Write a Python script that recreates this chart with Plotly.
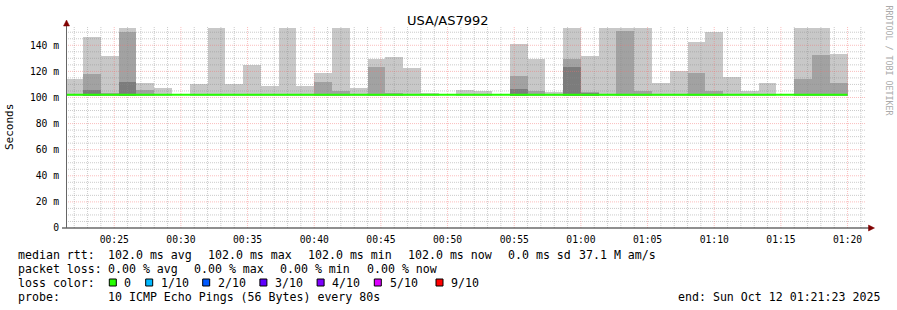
import plotly.graph_objects as go
from datetime import datetime, timedelta

# ---------------- data ----------------
TITLE = "USA/AS7992"
WINDOW_START = datetime(2025, 10, 12, 0, 21, 23)
WINDOW_END = datetime(2025, 10, 12, 1, 21, 23)
FIRST_STEP = datetime(2025, 10, 12, 0, 21, 20)
STEP_SECONDS = 80

# smoke layers (ms): outer = max ping, mid / inner = inner ping spreads
smoke_outer = [114.5, 146.7, 132.0, 153.6, 111.3, 107.5, None, 110.5, 153.6, 110.5,
               125.2, 109.0, 153.6, 109.0, 119.0, 153.6, 107.5, 129.8, 131.3, 122.8,
               103.6, None, 106.0, 105.0, None, 141.3, 129.8, 104.4, 153.6, 132.0,
               153.6, 153.6, 153.6, 111.3, 120.5, 142.8, 149.8, 115.9, 105.0, 111.3,
               None, 153.6, 153.6, 133.6]
smoke_mid = [None, 118.2, 103.5, 149.8, 105.9, None, None, None, None, None,
             None, None, None, None, 112.0, 105.0, None, 123.6, 103.6, None,
             None, None, None, None, None, 116.7, 105.0, None, 129.8, 104.4,
             None, 151.3, 105.0, None, None, 119.0, 105.0, None, None, None,
             None, 114.4, 132.8, 111.3]
smoke_inner = [None, 105.9, None, 112.0, None, None, None, None, None, None,
               None, None, None, None, None, None, None, None, None, None,
               None, None, None, None, None, 106.7, None, None, 123.6, 103.5,
               None, None, None, None, None, None, None, None, None, None,
               None, None, None, None]
median_rtt = [102.0, 102.0, 102.0, 102.0, 102.0, 102.0, 102.0, 102.0, 102.0, 102.0,
              102.0, 102.0, 102.0, 102.0, 102.0, 102.0, 102.0, 102.0, 102.0, 102.0,
              102.0, 102.0, 102.0, 102.0, 102.0, 102.0, 102.0, 102.0, 102.0, 102.0,
              102.0, 102.0, 102.0, 102.0, 102.0, 102.0, 102.0, 102.0, 102.0, 102.0,
              102.0, 102.0, 102.0, 102.0]
min_rtt = 101.0

y_tick_vals = [0, 20, 40, 60, 80, 100, 120, 140]
y_tick_text = ["0", "20 m", "40 m", "60 m", "80 m", "100 m", "120 m", "140 m"]
x_tick_text = ["00:25", "00:30", "00:35", "00:40", "00:45", "00:50",
               "00:55", "01:00", "01:05", "01:10", "01:15", "01:20"]
Y_MAX = 154.0

legend_rtt = ["median rtt:", "102.0 ms avg", "102.0 ms max", "102.0 ms min",
              "102.0 ms now", "0.0 ms sd", "37.1 M am/s"]
legend_loss = ["packet loss:", "0.00 % avg", "0.00 % max", "0.00 % min", "0.00 % now"]
loss_labels = ["0", "1/10", "2/10", "3/10", "4/10", "5/10", "9/10"]
loss_colors = ["#26ff00", "#00b8ff", "#0059ff", "#5e00ff", "#7e00ff", "#dd00ff", "#ff0000"]
probe_text = "10 ICMP Echo Pings (56 Bytes) every 80s"
end_text = "end: Sun Oct 12 01:21:23 2025"

# ---------------- layout geometry (pixels) ----------------
W, H = 897, 310
L, R, T, B = 66, 866, 27, 228
PW, PH = R - L, B - T


def px(x):
    return (x - L) / PW


def py(y):
    return (B - y) / PH


MONO = "DejaVu Sans Mono"
n = len(smoke_outer)
centers = [FIRST_STEP + timedelta(seconds=STEP_SECONDS * (i + 0.5)) for i in range(n)]
bounds = [FIRST_STEP + timedelta(seconds=STEP_SECONDS * i) for i in range(n + 1)]

fig = go.Figure()


def smoke(vals, color):
    fig.add_trace(go.Bar(
        x=centers, y=[(v - min_rtt) if v is not None else None for v in vals],
        base=min_rtt, width=STEP_SECONDS * 1000, marker_color=color,
        marker_line_width=0, hoverinfo="skip", showlegend=False))


smoke(smoke_outer, "#c8c8c8")
smoke(smoke_mid, "#a2a2a2")
smoke(smoke_inner, "#7c7c7c")

# grid (drawn above the smoke, like rrdtool)
minor_x, major_x = [], []
t = datetime(2025, 10, 12, 0, 22)
while t < WINDOW_END:
    target = major_x if t.minute % 5 == 0 else minor_x
    target += [t, t, None]
    t += timedelta(minutes=1)
vy_minor = [0, Y_MAX, None] * (len(minor_x) // 3)
vy_major = [0, Y_MAX, None] * (len(major_x) // 3)
minor_y, major_y = [], []
for v in range(5, 151, 5):
    (major_y if v % 20 == 0 else minor_y).extend([v, v, None])
hx_minor = [WINDOW_START, WINDOW_END, None] * (len(minor_y) // 3)
hx_major = [WINDOW_START, WINDOW_END, None] * (len(major_y) // 3)

GRID = "rgba(140,140,140,0.45)"
MGRID = "rgba(245,110,110,0.45)"
for xs, ys, col in [(minor_x, vy_minor, GRID), (hx_minor, minor_y, GRID),
                    (major_x, vy_major, MGRID), (hx_major, major_y, MGRID)]:
    fig.add_trace(go.Scatter(x=xs, y=ys, mode="lines",
                             line=dict(color=col, width=1, dash="1px,1px"),
                             hoverinfo="skip", showlegend=False))

# median line
fig.add_trace(go.Scatter(x=bounds, y=median_rtt + [median_rtt[-1]], mode="lines",
                         line=dict(color=loss_colors[0], width=2, shape="hv"),
                         hoverinfo="skip", showlegend=False))

tick_times = [datetime(2025, 10, 12, int(s[:2]), int(s[3:])) for s in x_tick_text]

fig.update_layout(
    width=W, height=H, autosize=False,
    margin=dict(l=L, r=W - R, t=T, b=H - B, pad=0),
    paper_bgcolor="white", plot_bgcolor="white",
    barmode="overlay", bargap=0, showlegend=False,
    font=dict(family=MONO, size=10, color="#000"),
    xaxis=dict(type="date", range=[WINDOW_START, WINDOW_END], showgrid=False,
               zeroline=False, showline=False, tickvals=tick_times, ticktext=x_tick_text,
               ticks="outside", ticklen=2, tickcolor="rgba(0,0,0,0)",
               tickfont=dict(family=MONO, size=9.7, color="#000"), fixedrange=True),
    yaxis=dict(range=[0, Y_MAX], showgrid=False, zeroline=False, showline=False,
               tickvals=y_tick_vals, ticktext=y_tick_text,
               ticks="outside", ticklen=4, tickcolor="rgba(0,0,0,0)",
               tickfont=dict(family=MONO, size=9.7, color="#000"), fixedrange=True),
)

shapes = []
# axes lines
shapes.append(dict(type="line", xref="paper", yref="paper", x0=px(62), x1=px(869),
                   y0=py(228), y1=py(228), line=dict(color="#212121", width=1.2)))
shapes.append(dict(type="line", xref="paper", yref="paper", x0=px(66.5), x1=px(66.5),
                   y0=py(228), y1=py(24), line=dict(color="#666666", width=1)))
# arrows
shapes.append(dict(type="path", xref="paper", yref="paper",
                   path=f"M {px(66.5)},{py(20)} L {px(63.5)},{py(26)} L {px(69.5)},{py(26)} Z",
                   fillcolor="#800000", line=dict(color="#800000", width=0.5)))
shapes.append(dict(type="path", xref="paper", yref="paper",
                   path=f"M {px(874.5)},{py(228)} L {px(868.5)},{py(225)} L {px(868.5)},{py(231)} Z",
                   fillcolor="#800000", line=dict(color="#800000", width=0.5)))
# loss colour boxes
box_x = [109.3, 145.7, 202.7, 259.9, 317.1, 374.3, 436.0]
for bx, col in zip(box_x, loss_colors):
    shapes.append(dict(type="rect", xref="paper", yref="paper",
                       x0=px(bx), x1=px(bx + 7), y0=py(286), y1=py(279),
                       fillcolor=col, line=dict(color="#000", width=1)))
fig.update_layout(shapes=shapes)

ann = []


def text(x, y, s, size=11.6, anchor="left", color="#000", family=MONO, angle=0):
    ann.append(dict(xref="paper", yref="paper", x=px(x), y=py(y), text=s.replace(" ", "\u00a0"),
                    showarrow=False, xanchor=anchor, yanchor="middle", borderpad=0,
                    font=dict(family=family, size=size, color=color), textangle=angle))


text(448, 20, TITLE, size=13, anchor="center", family="DejaVu Sans")
text(10, 127, "Seconds", size=11, anchor="center", angle=-90)
text(888.5, 60, "RRDTOOL / TOBI OETIKER", size=8.3, anchor="center", color="#aaaaaa", angle=90)

rtt_x = [16.7, 107.3, 207.3, 307.3, 407.3, 506.7, 578.3]
for xx, s in zip(rtt_x, legend_rtt):
    text(xx, 254.5, s)
loss_x = [16.7, 107.3, 193.3, 279.3, 365.7]
for xx, s in zip(loss_x, legend_loss):
    text(xx, 268.5, s)
text(16.7, 282.5, "loss color:")
label_x = [123.3, 160.0, 217.0, 274.2, 331.4, 388.6, 450.0]
for xx, s in zip(label_x, loss_labels):
    text(xx, 282.5, s)
text(16.7, 296.5, "probe:")
text(107.3, 296.5, probe_text)
text(880.5, 296.5, end_text, anchor="right")
fig.update_layout(annotations=ann)

fig.write_html("out.html")
